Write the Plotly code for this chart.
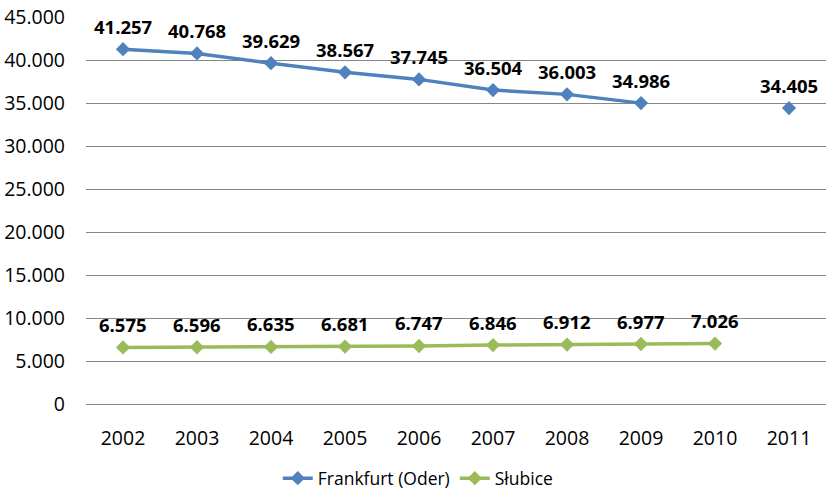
import plotly.graph_objects as go

years = ["2002", "2003", "2004", "2005", "2006", "2007", "2008", "2009", "2010", "2011"]
frankfurt = [41257, 40768, 39629, 38567, 37745, 36504, 36003, 34986, None, 34405]
slubice = [6575, 6596, 6635, 6681, 6747, 6846, 6912, 6977, 7026, None]

FONT = "'Open Sans', sans-serif"
BLUE = "#4F81BD"
GREEN = "#9BBB59"

fig = go.Figure()
for name, vals, col in [("Frankfurt (Oder)", frankfurt, BLUE), ("Słubice", slubice, GREEN)]:
    fig.add_trace(go.Scatter(
        x=years, y=vals, name=name, mode="lines+markers",
        line=dict(color=col, width=3.5),
        marker=dict(symbol="diamond", size=11, color=col),
        connectgaps=False,
    ))
    for i, v in enumerate(vals):
        if v is None:
            continue
        # category axis: annotation x given as the category index
        fig.add_annotation(
            x=i, y=v, text="<b>" + f"{v:,}".replace(",", ".") + "</b>",
            showarrow=False, yshift=23,
            font=dict(family=FONT, size=18.5, color="#000000"),
        )

fig.update_layout(
    width=827, height=489,
    margin=dict(l=86, r=1, t=17, b=85, autoexpand=False),
    paper_bgcolor="white", plot_bgcolor="white",
    separators=",.",
    font=dict(family=FONT, size=18, color="#000000"),
    showlegend=True,
    legend=dict(orientation="h", x=0.449, xanchor="center", y=-0.192, yanchor="middle",
                font=dict(family=FONT, size=17.5, color="#000000"), itemwidth=30,
                tracegroupgap=0),
)
fig.update_xaxes(
    type="category", categoryorder="array", categoryarray=years,
    range=[-0.5, len(years) - 0.5],
    showgrid=False, showline=False, ticks="",
    tickfont=dict(family=FONT, size=19.5), ticklabelstandoff=20,
)
fig.update_yaxes(
    range=[0, 45000], dtick=5000, tickformat=",d",
    showgrid=True, gridcolor="#878787", gridwidth=1.2,
    zeroline=True, zerolinecolor="#878787", zerolinewidth=1.2,
    showline=False, ticks="", tickfont=dict(family=FONT, size=19.5),
    ticklabelstandoff=20,
)

fig.write_html("out.html")
